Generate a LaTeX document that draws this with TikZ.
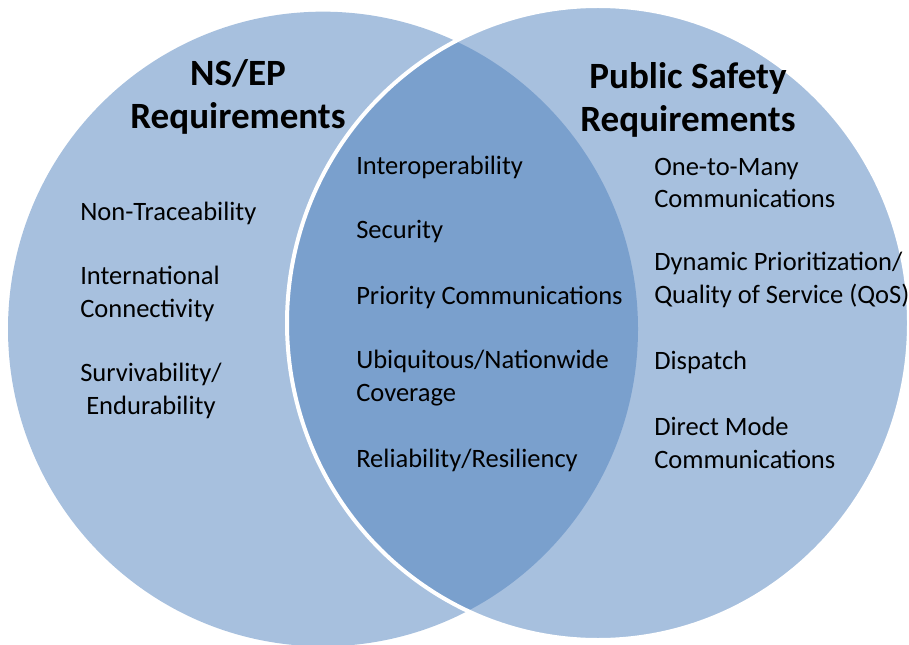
\documentclass[tikz,border=0pt]{standalone}
\usepackage{fontspec}
\setmainfont{Carlito}
\usepackage{tikz}
\usetikzlibrary{backgrounds}
\definecolor{vennblue}{HTML}{4F81BD}
\tikzset{t/.style={font=\fontsize{27.8}{32}\selectfont\bfseries, align=center, inner sep=0pt}}
\tikzset{b/.style={font=\fontsize{19.9}{24.6}\selectfont, align=left, anchor=west, inner sep=0pt}}
\tikzset{venn/.style={fill=vennblue, fill opacity=0.5}}

\begin{document}
\begin{tikzpicture}[x=0.75pt,y=-0.75pt]
          \useasboundingbox (0,0) rectangle (909,645);
          \fill[venn] (323,329) ellipse [x radius=236.25pt, y radius=238pt];
          \filldraw[venn, draw=white, draw opacity=1, line width=3pt] (598,323) ellipse [x radius=233.25pt, y radius=237.75pt];
          \node[t] (NSEP) at (238,97) {NS/EP\\Requirements};
          \node[t] (PS) at (688,100) {Public Safety\\Requirements};
          \node[b] (NT) at (80,213) {Non-Traceability};
          \node[b] (IC) at (80,294) {International\\Connectivity};
          \node[b, align=center] (SE) at (80,391) {Survivability/\\Endurability};
          \node[b] (IO) at (356,167) {Interoperability};
          \node[b] (SEC) at (356,232) {Security};
          \node[b] (PC) at (356,297) {Priority Communications};
          \node[b] (UNC) at (356,378) {Ubiquitous/Nationwide\\Coverage};
          \node[b] (RR) at (356,460) {Reliability/Resiliency};
          \node[b] (OMC) at (654,183) {One-to-Many\\Communications};
          \node[b] (DPQ) at (654,280) {Dynamic Prioritization/\\Quality of Service (QoS)};
          \node[b] (DIS) at (654,362) {Dispatch};
          \node[b] (DMC) at (654,443) {Direct Mode\\Communications};
        \end{tikzpicture}
\end{document}
